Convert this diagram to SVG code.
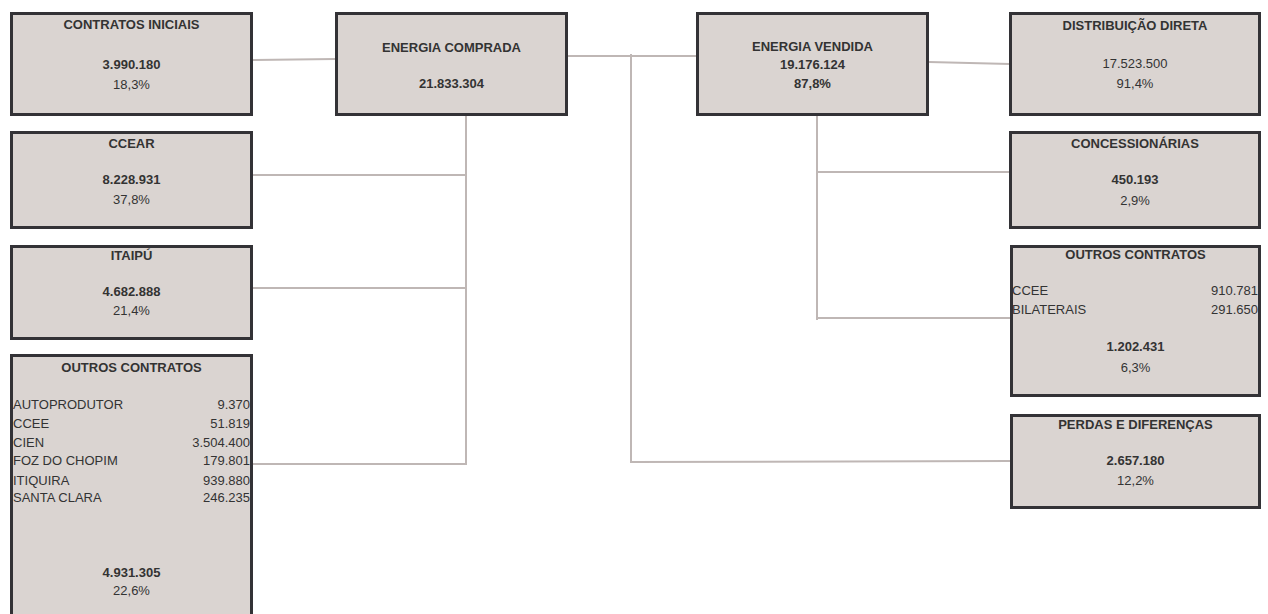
<svg xmlns="http://www.w3.org/2000/svg" width="1268" height="614" viewBox="0 0 1268 614">
<style>
.box{fill:#dad4d1;stroke:#333236;stroke-width:3}
.t{font-family:"Liberation Sans",Arial,sans-serif;font-size:13px;fill:#333333}
.b{font-weight:bold}
.c{text-anchor:middle}
.r{text-anchor:end}
.ln{fill:none;stroke:#bfb7b5;stroke-width:2}
</style>
<rect width="1268" height="614" fill="#ffffff"/>
<g id="connectors">
<path class="ln" d="M253 60 L335 59"/>
<path class="ln" d="M568 56 L697 56"/>
<path class="ln" d="M631 54 L631 462 L1010 461"/>
<path class="ln" d="M466 116 L466 465"/>
<path class="ln" d="M253 175 L467 175"/>
<path class="ln" d="M253 288 L467 288"/>
<path class="ln" d="M253 464 L467 464"/>
<path class="ln" d="M929 62 L1010 64"/>
<path class="ln" d="M817 116 L817 320"/>
<path class="ln" d="M817 172 L1010 172"/>
<path class="ln" d="M817 318 L1010 318"/>
</g>
<g id="contratos-iniciais">
<rect class="box" x="11.5" y="13.5" width="240" height="101"/>
<text class="t b c" x="131.5" y="29">CONTRATOS INICIAIS</text>
<text class="t b c" x="131.5" y="69">3.990.180</text>
<text class="t c" x="131.5" y="88.5">18,3%</text>
</g>
<g id="ccear">
<rect class="box" x="11.5" y="132.5" width="240" height="95"/>
<text class="t b c" x="131.5" y="147.5">CCEAR</text>
<text class="t b c" x="131.5" y="184">8.228.931</text>
<text class="t c" x="131.5" y="204">37,8%</text>
</g>
<g id="itaipu">
<rect class="box" x="11.5" y="246.5" width="240" height="92"/>
<text class="t b c" x="131.5" y="260">ITAIPÚ</text>
<text class="t b c" x="131.5" y="296">4.682.888</text>
<text class="t c" x="131.5" y="315">21,4%</text>
</g>
<g id="outros-contratos-compra">
<rect class="box" x="11.5" y="355.5" width="240" height="280"/>
<text class="t b c" x="131.5" y="372">OUTROS CONTRATOS</text>
<text class="t" x="13" y="409">AUTOPRODUTOR</text><text class="t r" x="250" y="409">9.370</text>
<text class="t" x="13" y="428">CCEE</text><text class="t r" x="250" y="428">51.819</text>
<text class="t" x="13" y="446.5">CIEN</text><text class="t r" x="250" y="446.5">3.504.400</text>
<text class="t" x="13" y="465">FOZ DO CHOPIM</text><text class="t r" x="250" y="465">179.801</text>
<text class="t" x="13" y="485">ITIQUIRA</text><text class="t r" x="250" y="485">939.880</text>
<text class="t" x="13" y="502">SANTA CLARA</text><text class="t r" x="250" y="502">246.235</text>
<text class="t b c" x="131.5" y="577">4.931.305</text>
<text class="t c" x="131.5" y="595">22,6%</text>
</g>
<g id="energia-comprada">
<rect class="box" x="336.5" y="13.5" width="230" height="101"/>
<text class="t b c" x="451.5" y="51.5">ENERGIA COMPRADA</text>
<text class="t b c" x="451.5" y="88">21.833.304</text>
</g>
<g id="energia-vendida">
<rect class="box" x="697.5" y="13.5" width="230" height="101"/>
<text class="t b c" x="812.5" y="50.5">ENERGIA VENDIDA</text>
<text class="t b c" x="812.5" y="69">19.176.124</text>
<text class="t b c" x="812.5" y="88">87,8%</text>
</g>
<g id="distribuicao-direta">
<rect class="box" x="1010.5" y="13.5" width="249" height="101"/>
<text class="t b c" x="1135" y="29.5">DISTRIBUIÇÃO DIRETA</text>
<text class="t c" x="1135" y="68">17.523.500</text>
<text class="t c" x="1135" y="88">91,4%</text>
</g>
<g id="concessionarias">
<rect class="box" x="1010.5" y="132.5" width="249" height="95"/>
<text class="t b c" x="1135" y="147.5">CONCESSIONÁRIAS</text>
<text class="t b c" x="1135" y="184">450.193</text>
<text class="t c" x="1135" y="204.5">2,9%</text>
</g>
<g id="outros-contratos-venda">
<rect class="box" x="1011.5" y="246.5" width="248" height="149"/>
<text class="t b c" x="1135.5" y="258.5">OUTROS CONTRATOS</text>
<text class="t" x="1012" y="295">CCEE</text><text class="t r" x="1258" y="295">910.781</text>
<text class="t" x="1012" y="313.5">BILATERAIS</text><text class="t r" x="1258" y="313.5">291.650</text>
<text class="t b c" x="1135.5" y="350.5">1.202.431</text>
<text class="t c" x="1135.5" y="372">6,3%</text>
</g>
<g id="perdas-diferencas">
<rect class="box" x="1011.5" y="415.5" width="248" height="92"/>
<text class="t b c" x="1135.5" y="428.5">PERDAS E DIFERENÇAS</text>
<text class="t b c" x="1135.5" y="465">2.657.180</text>
<text class="t c" x="1135.5" y="485">12,2%</text>
</g>
</svg>
